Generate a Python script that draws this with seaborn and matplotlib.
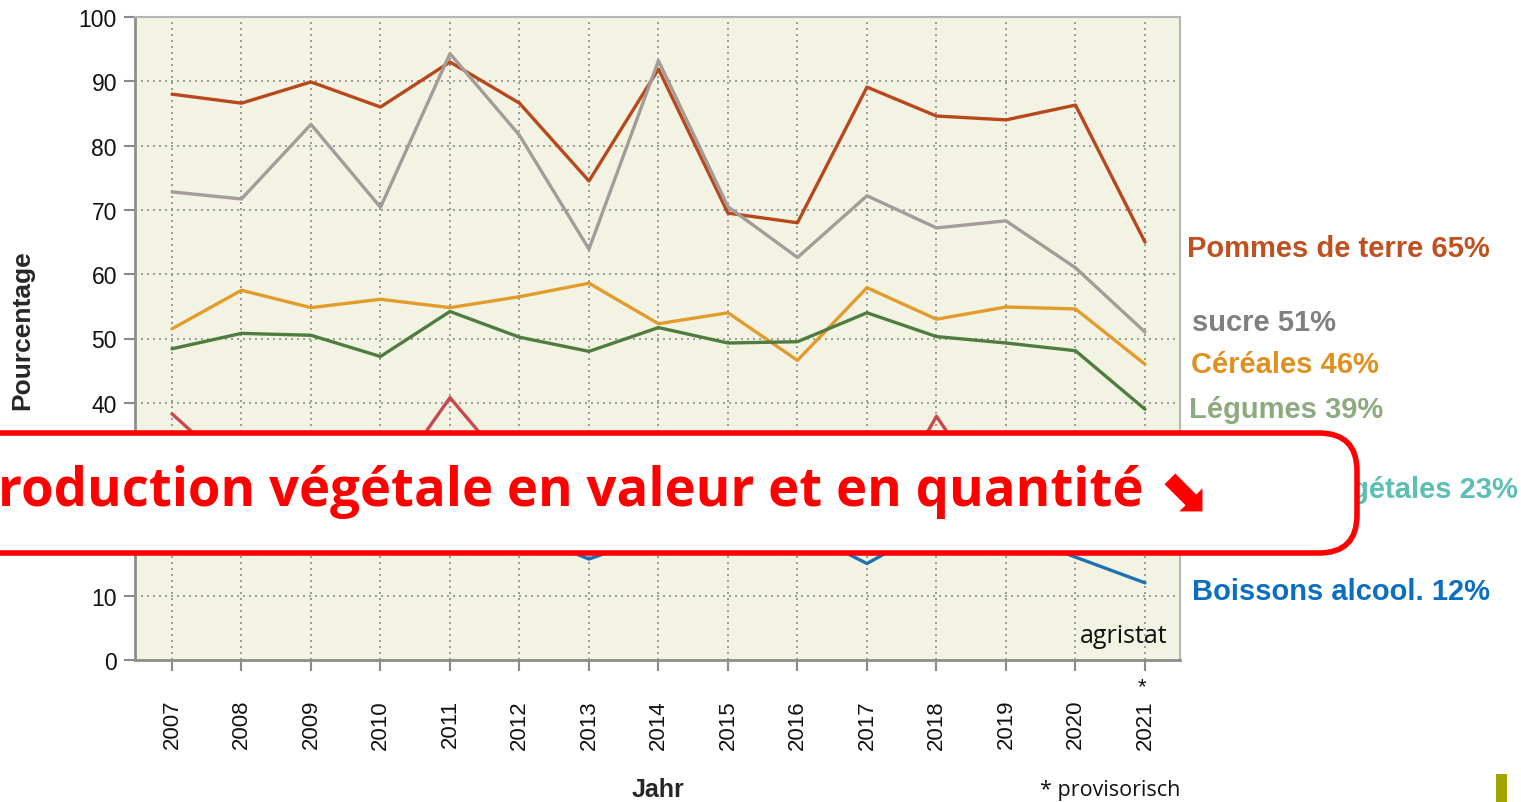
import matplotlib
matplotlib.use("Agg")
import matplotlib.pyplot as plt
import seaborn as sns
import pandas as pd
from matplotlib.patches import FancyBboxPatch, Rectangle

years = list(range(2007, 2022))
year_labels = [str(y) for y in years]
pommes = [88.0, 86.6, 89.9, 86.0, 93.0, 86.6, 74.5, 91.9, 69.5, 68.0, 89.1, 84.6, 84.0, 86.3, 65.0]
sucre = [72.8, 71.7, 83.3, 70.4, 94.3, 81.6, 63.9, 93.2, 70.5, 62.6, 72.2, 67.2, 68.3, 61.0, 51.0]
cereales = [51.5, 57.5, 54.8, 56.1, 54.8, 56.5, 58.6, 52.3, 54.0, 46.6, 57.9, 53.0, 54.9, 54.6, 46.0]
legumes = [48.4, 50.8, 50.5, 47.2, 54.2, 50.2, 48.0, 51.7, 49.3, 49.5, 54.0, 50.3, 49.3, 48.1, 39.0]
fruits = [38.3, 28.5, 29.0, 25.5, 40.8, 28.0, 27.0, 29.0, 27.0, 26.0, 19.0, 37.9, 22.0, 26.0, 24.0]
huiles = [30.0, 31.0, 29.5, 30.5, 32.0, 29.0, 28.0, 31.0, 29.0, 27.5, 30.0, 29.0, 28.5, 27.0, 23.0]
boissons = [21.0, 22.0, 20.5, 21.0, 23.0, 20.0, 15.7, 19.5, 21.0, 20.5, 15.0, 21.0, 20.0, 16.0, 12.0]

series_names = ["Pommes de terre", "sucre", "Céréales", "Légumes", "Fruits", "Huiles végétales", "Boissons alcool."]
series_values = [pommes, sucre, cereales, legumes, fruits, huiles, boissons]
line_colors = ["#B8471C", "#A39C98", "#E39B2B", "#4F7C3F", "#C9474F", "#5BBFB4", "#2070B4"]
label_colors = ["#C0501F", "#808080", "#E0901F", "#8DAA7E", None, "#5BBFB4", "#0A6FC0"]
label_y = [64.1, 52.6, 46.0, 39.0, None, 26.6, 10.7]
label_x = [2021.60, 2021.68, 2021.66, 2021.64, None, 2022.12, 2021.67]

df = pd.DataFrame({
    "Jahr": years * len(series_names),
    "Pourcentage": [v for vals in series_values for v in vals],
    "Produit": [n for n in series_names for _ in years],
})

sns.set_theme(style="white")
plt.rcParams["font.family"] = ["Liberation Sans", "DejaVu Sans"]

fig = plt.figure(figsize=(15.21, 8.03), dpi=100)
ax = fig.add_axes([135 / 1521, 1 - 661 / 803, (1180 - 135) / 1521, (661 - 18) / 803])
ax.set_facecolor("#F3F3E3")

palette = dict(zip(series_names, line_colors))
sns.lineplot(data=df, x="Jahr", y="Pourcentage", hue="Produit", palette=palette,
             hue_order=series_names, linewidth=2.4, legend=False, ax=ax, zorder=3)

ax.set_xlim(2006.468, 2021.504)
ax.set_ylim(0, 100)
ax.set_xticks(years)
ax.set_xticklabels(year_labels, rotation=90, fontsize=16, color="#111111")
ax.set_yticks(range(0, 101, 10))
ax.set_yticklabels([str(v) for v in range(0, 101, 10)], fontsize=16.5, color="#111111")
ax.tick_params(axis="x", which="major", direction="out", length=8, width=1.5,
               color="#8A8A8A", bottom=True, pad=20)
ax.tick_params(axis="y", which="major", direction="out", length=8, width=1.5,
               color="#8A8A8A", left=True, pad=5)
ax.grid(True, color="#8C8C8C", linestyle=(0, (1.2, 2.4)), linewidth=1.2, zorder=1)
ax.set_axisbelow(True)
for s in ["left", "bottom"]:
    ax.spines[s].set_color("#8E8E8E")
    ax.spines[s].set_linewidth(2)
for s in ["top", "right"]:
    ax.spines[s].set_color("#B5B5B5")
    ax.spines[s].set_linewidth(1.5)

ax.set_xlabel("Jahr", fontsize=18, fontweight="bold", va="center")
ax.set_ylabel("Pourcentage", fontsize=19, fontweight="bold", va="center")
ax.xaxis.set_label_coords(0.5, -(790 - 661) / 643)
ax.yaxis.set_label_coords(-(135 - 22) / 1045, (661 - 330) / 643)

# asterisk on the provisional 2021 tick label
ax.annotate("*", xy=(2021, 0), xycoords=("data", "axes fraction"), xytext=(-2, -12),
            textcoords="offset points", ha="center", va="top", fontsize=16, color="#111111",
            annotation_clip=False)

ax.text(0.988, 0.018, "agristat", transform=ax.transAxes, ha="right", va="bottom",
        fontsize=18, family="Open Sans", color="#111111")

for name, vals, col, ly, lx in zip(series_names, series_values, label_colors, label_y, label_x):
    if col is None:
        continue
    ax.text(lx, ly, f"{name} {round(vals[-1])}%", color=col, fontsize=21, fontweight="bold",
            ha="left", va="center", clip_on=False)

fig.text(1180 / 1521, 1 - 791 / 803, "* provisorisch", ha="right", va="center",
         fontsize=15.5, family="Open Sans", color="#111111")

fig.patches.append(Rectangle((1496 / 1521, 0), 11 / 1521, 28 / 803, transform=fig.transFigure,
                             facecolor="#A3A300", edgecolor="none", zorder=5))

# overlay banner
banner = FancyBboxPatch((-40 / 1521, 1 - 554 / 803), (1357 + 40) / 1521, (554 - 434) / 803,
                        boxstyle="round,pad=0,rounding_size=0.025", transform=fig.transFigure,
                        facecolor="white", edgecolor="#FF0000", linewidth=4, zorder=6,
                        mutation_aspect=1521 / 803)
fig.patches.append(banner)
fig.text(-2 / 1521, 1 - 492 / 803, "roduction végétale en valeur et en quantité",
         ha="left", va="center", fontsize=38, fontweight="bold", color="#FF0000",
         family="Open Sans", zorder=7)
fig.text(1182 / 1521, 1 - 493 / 803, "\u2b0a", ha="center", va="center", fontsize=44,
         fontweight="bold", color="#FF0000", family="DejaVu Sans", zorder=7)

fig.savefig("out.png", dpi=100)
